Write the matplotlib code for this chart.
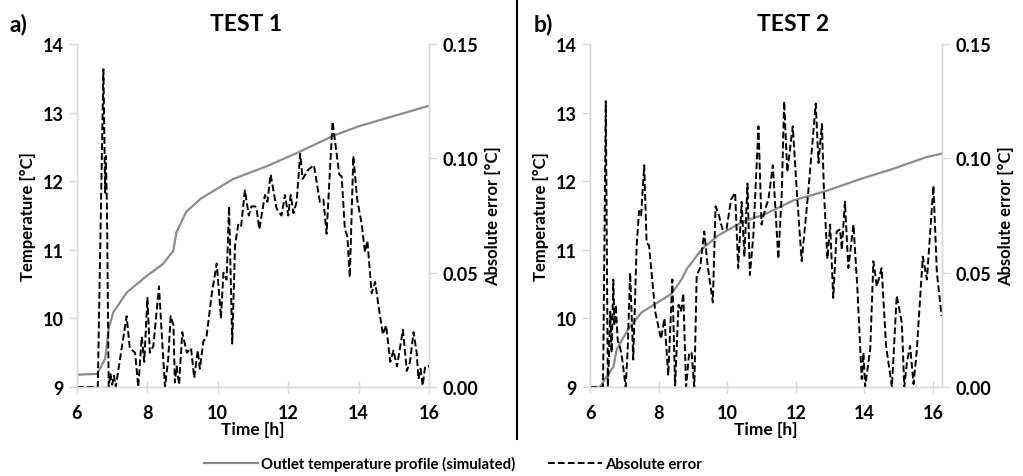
import matplotlib
matplotlib.use("Agg")
import matplotlib.pyplot as plt
from matplotlib.lines import Line2D

plt.rcParams['font.family'] = ['Lato', 'DejaVu Sans']
plt.rcParams['font.weight'] = 'bold'

# ---- TEST 1 ----
t1_temp_x = [6.0, 6.57, 6.8, 6.9, 7.03, 7.42, 7.98, 8.36, 8.45, 8.73, 8.83, 9.1, 9.5,
             10.43, 11.4, 12.33, 13.27, 14.0, 15.0, 16.0]
t1_temp_y = [9.18, 9.19, 9.41, 9.85, 10.09, 10.38, 10.62, 10.76, 10.8, 10.98, 11.26, 11.55, 11.74,
             12.03, 12.22, 12.43, 12.66, 12.8, 12.95, 13.1]

t1_err_x = [6.0, 6.59, 6.75, 6.80, 6.82, 6.85, 6.9, 6.95, 7.0, 7.05, 7.1, 7.22, 7.41, 7.5, 7.65,
            7.74, 7.84, 7.91, 8.0, 8.07, 8.17, 8.33, 8.42, 8.5, 8.59, 8.66, 8.74, 8.78, 8.83,
            8.9, 8.99, 9.12, 9.24, 9.33, 9.43, 9.49, 9.59, 9.68, 9.83, 9.97, 10.09, 10.16,
            10.25, 10.32, 10.41, 10.49, 10.58, 10.66, 10.77, 10.88, 10.96, 11.06, 11.1, 11.18,
            11.34, 11.41, 11.5, 11.67, 11.81, 11.91, 12.0, 12.07, 12.15, 12.24, 12.34, 12.41,
            12.57, 12.73, 12.9, 13.0, 13.09, 13.26, 13.45, 13.52, 13.61, 13.68, 13.75, 13.85,
            13.96, 14.09, 14.18, 14.25, 14.37, 14.47, 14.56, 14.69, 14.78, 14.9, 14.99, 15.09,
            15.26, 15.37, 15.46, 15.56, 15.65, 15.7, 15.76, 15.82, 15.89, 15.98, 16.0]
t1_err_y = [0.0, 0.0, 0.139, 0.085, 0.101, 0.08, 0.0, 0.006, 0.001, 0.005, 0.0, 0.012, 0.031, 0.017,
            0.015, 0.0, 0.022, 0.011, 0.039, 0.015, 0.018, 0.044, 0.02, 0.0, 0.012, 0.031, 0.027,
            0.002, 0.009, 0.001, 0.024, 0.015, 0.017, 0.004, 0.016, 0.008, 0.02, 0.022, 0.041,
            0.054, 0.030, 0.05, 0.047, 0.079, 0.019, 0.062, 0.071, 0.07, 0.086, 0.075, 0.079,
            0.079, 0.078, 0.069, 0.084, 0.081, 0.093, 0.078, 0.075, 0.084, 0.075, 0.084, 0.076,
            0.081, 0.102, 0.091, 0.095, 0.097, 0.081, 0.082, 0.067, 0.116, 0.093, 0.092, 0.069,
            0.066, 0.048, 0.101, 0.082, 0.071, 0.059, 0.064, 0.041, 0.046, 0.036, 0.023, 0.027,
            0.011, 0.016, 0.009, 0.025, 0.007, 0.011, 0.024, 0.015, 0.0035, 0.008, 0.0006,
            0.009, 0.009, 0.0095]

# ---- TEST 2 ----
t2_temp_x = [6.0, 6.29, 6.44, 6.68, 6.78, 7.12, 7.51, 7.9, 8.38, 8.67, 8.82, 9.26, 9.74,
             10.42, 11.1, 11.93, 12.9, 13.87, 14.83, 15.8, 16.24]
t2_temp_y = [9.0, 9.0, 9.12, 9.29, 9.55, 9.85, 10.09, 10.21, 10.36, 10.57, 10.72, 11.01, 11.21,
             11.4, 11.52, 11.72, 11.86, 12.03, 12.18, 12.35, 12.4]

t2_err_x = [6.0, 6.38, 6.46, 6.52, 6.55, 6.59, 6.63, 6.68, 6.71, 6.75, 6.81, 6.87, 6.94, 7.04,
            7.1, 7.17, 7.26, 7.36, 7.43, 7.49, 7.58, 7.65, 7.72, 7.9, 8.07, 8.17, 8.28, 8.4,
            8.48, 8.58, 8.65, 8.72, 8.8, 8.89, 8.96, 9.04, 9.11, 9.21, 9.33, 9.43, 9.58, 9.66,
            9.74, 9.86, 9.98, 10.11, 10.23, 10.32, 10.42, 10.5, 10.59, 10.66, 10.76, 10.91,
            11.0, 11.11, 11.2, 11.33, 11.49, 11.59, 11.66, 11.75, 11.91, 12.03, 12.17, 12.36,
            12.58, 12.66, 12.76, 12.82, 12.92, 13.0, 13.09, 13.19, 13.29, 13.34, 13.43, 13.53,
            13.68, 13.79, 13.92, 13.97, 14.02, 14.17, 14.26, 14.36, 14.5, 14.63, 14.8, 14.94,
            15.09, 15.16, 15.24, 15.33, 15.43, 15.52, 15.7, 15.82, 16.01, 16.11, 16.25]
t2_err_y = [0.0, 0.0, 0.125, 0.0, 0.012, 0.033, 0.015, 0.047, 0.027, 0.036, 0.02, 0.018, 0.012,
            0.0, 0.017, 0.05, 0.012, 0.062, 0.077, 0.075, 0.097, 0.063, 0.062, 0.033, 0.021,
            0.03, 0.005, 0.047, 0.0006, 0.036, 0.033, 0.041, 0.0, 0.015, 0.015, 0.0, 0.049,
            0.052, 0.068, 0.053, 0.037, 0.079, 0.076, 0.069, 0.069, 0.082, 0.085, 0.052, 0.081,
            0.057, 0.089, 0.049, 0.066, 0.114, 0.071, 0.078, 0.082, 0.097, 0.056, 0.085, 0.125,
            0.094, 0.114, 0.085, 0.055, 0.085, 0.124, 0.098, 0.115, 0.085, 0.056, 0.071, 0.039,
            0.068, 0.069, 0.06, 0.081, 0.052, 0.071, 0.044, 0.0035, 0.015, 0.0, 0.017, 0.055,
            0.044, 0.052, 0.018, 0.0, 0.04, 0.028, 0.0, 0.011, 0.018, 0.0013, 0.015, 0.057,
            0.047, 0.088, 0.05, 0.031]

temp_ticks = [9, 10, 11, 12, 13, 14]
err_ticks = [0.00, 0.05, 0.10, 0.15]
time_ticks = [6, 8, 10, 12, 14, 16]

grey = '#8c8c8c'
axis_grey = '#d9d9d9'
dash = (0, (3.5, 1.6))

fig = plt.figure(figsize=(10.23, 4.77), dpi=100)


def panel(rect, tx, ty, ex, ey, xmax):
    ax = fig.add_axes(rect)
    ax.plot(tx, ty, color=grey, lw=1.6)
    ax.set_xlim(6, xmax)
    ax.set_ylim(9, 14)
    ax.set_xticks(time_ticks)
    ax.set_yticks(temp_ticks)
    ax.set_xlabel('Time [h]', fontsize=12.5, fontweight='bold', labelpad=0)
    ax.set_ylabel('Temperature [°C]', fontsize=12, fontweight='bold', labelpad=5)
    ax2 = ax.twinx()
    ax2.plot(ex, ey, color='black', lw=1.4, linestyle=dash)
    ax2.set_ylim(0, 0.15)
    ax2.set_yticks(err_ticks)
    ax2.set_yticklabels(['%.2f' % v for v in err_ticks])
    ax2.set_ylabel('Absolute error [°C]', fontsize=12, fontweight='bold', labelpad=5)
    for a in (ax, ax2):
        a.spines['top'].set_visible(False)
        for s in ('left', 'right', 'bottom'):
            a.spines[s].set_color(axis_grey)
            a.spines[s].set_linewidth(1.0)
        a.tick_params(colors=axis_grey, labelcolor='black', labelsize=13, length=6, width=1.0)
        for lab in a.get_xticklabels() + a.get_yticklabels():
            lab.set_fontweight('bold')
    ax.tick_params(axis='x', direction='inout', length=9, pad=8)
    return ax, ax2


panel([77 / 1023, 1 - 388 / 477, 352 / 1023, 343 / 477],
      t1_temp_x, t1_temp_y, t1_err_x, t1_err_y, 16)
panel([590 / 1023, 1 - 388 / 477, 352 / 1023, 343 / 477],
      t2_temp_x, t2_temp_y, t2_err_x, t2_err_y, 16.26)

fig.text(0.009, 0.949, 'a)', fontsize=16.5, fontweight='bold', va='center')
fig.text(0.24, 0.949, 'TEST 1', fontsize=16.5, fontweight='bold', va='center', ha='center')
fig.text(0.522, 0.949, 'b)', fontsize=16.5, fontweight='bold', va='center')
fig.text(0.775, 0.949, 'TEST 2', fontsize=16.5, fontweight='bold', va='center', ha='center')

fig.add_artist(Line2D([517 / 1023, 517 / 1023], [1 - 440 / 477, 1.0], color='black', lw=1.5))

handles = [Line2D([], [], color=grey, lw=1.6),
           Line2D([], [], color='black', lw=1.4, linestyle=dash)]
fig.legend(handles, ['Outlet temperature profile (simulated)', 'Absolute error'],
           loc='center', bbox_to_anchor=(0.443, 0.026), ncol=2, frameon=False,
           prop={'weight': 'bold', 'size': 10.8}, handlelength=3.6, handletextpad=0.2,
           columnspacing=2.2)

fig.savefig('out.png', dpi=100)
